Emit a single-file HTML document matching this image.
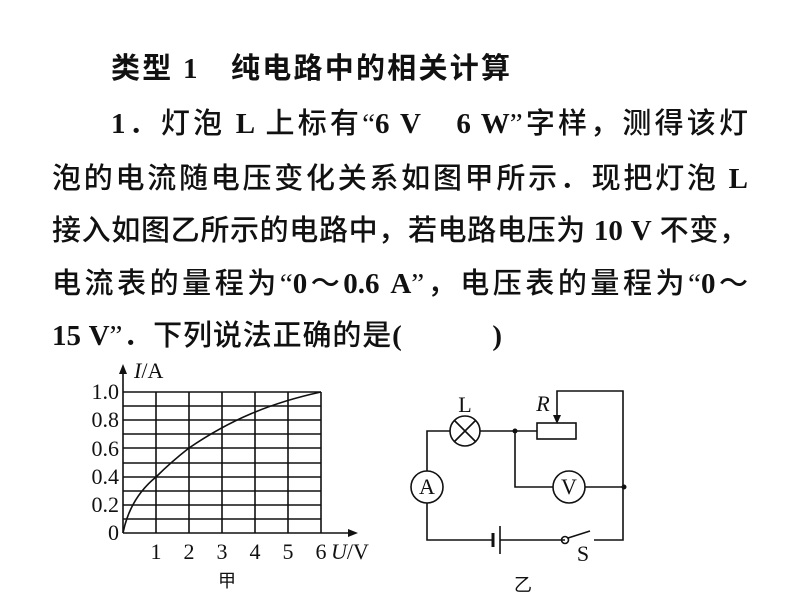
<!DOCTYPE html>
<html><head><meta charset="utf-8"><style>
body{margin:0;width:800px;height:600px;background:#fff;position:relative;overflow:hidden;}
.l{position:absolute;font-family:"Liberation Serif","Noto Sans CJK SC",serif;font-size:29px;line-height:34px;color:#111;white-space:nowrap;text-align:justify;text-align-last:justify;font-weight:500;}
.b{font-weight:bold}
svg text{font-family:"Liberation Serif",serif;fill:#111}
</style></head><body>
<div class="l b" style="left:111px;top:52px;font-size:29px;width:399px;">类型 1　纯电路中的相关计算</div>
<div class="l" style="left:111px;top:107px;width:637px;"><b>1</b>．灯泡 <b>L</b> 上标有“<b>6 V</b>　<b>6 W</b>”字样，测得该灯</div>
<div class="l" style="left:52px;top:162px;width:696px;">泡的电流随电压变化关系如图甲所示．现把灯泡 <b>L</b></div>
<div class="l" style="left:52px;top:214px;width:696px;">接入如图乙所示的电路中，若电路电压为 <b>10 V</b> 不变，</div>
<div class="l" style="left:52px;top:267px;width:696px;">电流表的量程为“<b>0</b>～<b>0.6 A</b>”，电压表的量程为“<b>0</b>～</div>
<div class="l" style="left:52px;top:319px;width:450px;"><b>15 V</b>”．下列说法正确的是<b>(　　　)</b></div>
<svg width="800" height="600" style="position:absolute;left:0;top:0" stroke="#111" fill="none">
<g stroke-width="1.6">
<line x1="123" y1="392" x2="321" y2="392"/><line x1="123" y1="406" x2="321" y2="406"/><line x1="123" y1="420" x2="321" y2="420"/><line x1="123" y1="434" x2="321" y2="434"/><line x1="123" y1="448" x2="321" y2="448"/><line x1="123" y1="463" x2="321" y2="463"/><line x1="123" y1="477" x2="321" y2="477"/><line x1="123" y1="491" x2="321" y2="491"/><line x1="123" y1="505" x2="321" y2="505"/><line x1="123" y1="519" x2="321" y2="519"/>
<line x1="156" y1="392" x2="156" y2="533"/><line x1="189" y1="392" x2="189" y2="533"/><line x1="222" y1="392" x2="222" y2="533"/><line x1="255" y1="392" x2="255" y2="533"/><line x1="288" y1="392" x2="288" y2="533"/><line x1="321" y1="392" x2="321" y2="533"/>
<line x1="123" y1="533" x2="352" y2="533"/><line x1="123" y1="533" x2="123" y2="370"/>
<path d="M123 533 C128 508,140 490,156 477 C170 463,180 455,189 448 C230 420,270 403,321 392"/>
</g>
<path d="M123 364 L119 374 L127 374Z M358 533 L348 529 L348 537Z" fill="#111" stroke="none"/>
<g font-size="22" stroke="none" text-anchor="end">
<text x="119" y="399">1.0</text><text x="119" y="427">0.8</text><text x="119" y="456">0.6</text><text x="119" y="484">0.4</text><text x="119" y="512">0.2</text><text x="119" y="540">0</text>
</g>
<g font-size="22" stroke="none" text-anchor="middle">
<text x="156" y="559">1</text><text x="189" y="559">2</text><text x="222" y="559">3</text><text x="255" y="559">4</text><text x="288" y="559">5</text><text x="321" y="559">6</text>
</g>
<text x="331" y="559" font-size="22" stroke="none"><tspan font-style="italic">U</tspan>/V</text>
<text x="134" y="378" font-size="22" stroke="none"><tspan font-style="italic">I</tspan>/A</text>
<text x="227" y="587" font-size="18" stroke="none" text-anchor="middle" style="font-family:'Noto Sans CJK SC',sans-serif">甲</text>
<g stroke-width="1.6">
<path d="M450 431 H427 V471 M427 503 V540 H493 M500 540 H565 M594 540 H623 V391 H557 V420 M480 431 H537 M515 431 V487 H553 M585 487 H623"/>
<circle cx="465" cy="431" r="15"/><path d="M454 420 L476 442 M476 420 L454 442"/>
<rect x="537" y="423" width="39" height="16"/>
<circle cx="427" cy="487" r="16"/><circle cx="569" cy="487" r="16"/>
<circle cx="565" cy="540" r="3.5"/><line x1="568" y1="538" x2="590" y2="531"/>
</g>
<line x1="493" y1="533" x2="493" y2="547" stroke-width="3"/><line x1="500" y1="526" x2="500" y2="554" stroke-width="1.6"/>
<path d="M557 424 L553 415 L561 415Z" fill="#111" stroke="none"/>
<circle cx="515" cy="431" r="2.5" fill="#111" stroke="none"/><circle cx="624" cy="487" r="2.5" fill="#111" stroke="none"/>
<g font-size="22" stroke="none" text-anchor="middle">
<text x="465" y="412">L</text><text x="543" y="411" font-style="italic">R</text><text x="427" y="494">A</text><text x="569" y="494">V</text><text x="583" y="561">S</text>
</g>
<text x="523" y="591" font-size="18" stroke="none" text-anchor="middle" style="font-family:'Noto Sans CJK SC',sans-serif">乙</text>
</svg>
</body></html>
